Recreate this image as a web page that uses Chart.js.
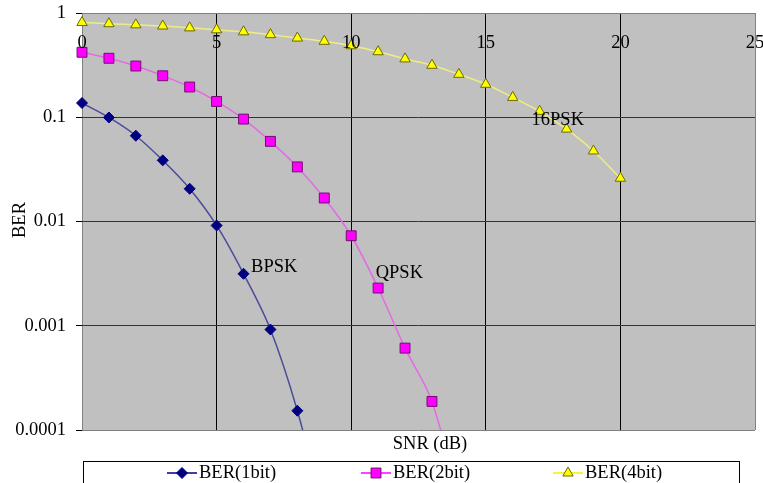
<!DOCTYPE html>
<html>
<head>
<meta charset="utf-8">
<script src="https://cdn.jsdelivr.net/npm/chart.js@4/dist/chart.umd.min.js"></script>
<style>
    html, body { margin: 0; padding: 0; background: #fff; }
    #wrap { width: 763px; height: 483px; }
</style>
</head>
<body>
<div id="wrap"><canvas id="berChart" width="763" height="483"></canvas></div>
<script>
// SNR (dB) values for each curve
var snr1bit = [0, 1, 2, 3, 4, 5, 6, 7, 8, 9];
var snr2bit = [0, 1, 2, 3, 4, 5, 6, 7, 8, 9, 10, 11, 12, 13, 14];
var snr4bit = [0, 1, 2, 3, 4, 5, 6, 7, 8, 9, 10, 11, 12, 13, 14, 15, 16, 17, 18, 19, 20];

// BER (last point of 1bit/2bit lies below the axis)
var ber1bit = [0.137, 0.0995, 0.0665, 0.0386, 0.0206, 0.00916, 0.00315, 0.00092, 0.000153, 0.000015];
var ber2bit = [0.42, 0.368, 0.31, 0.25, 0.195, 0.1417, 0.096, 0.0587, 0.0334, 0.0168,
               0.0073, 0.0023, 0.00061, 0.000188, 0.00002];
var ber4bit = [0.81, 0.79, 0.77, 0.75, 0.72, 0.69, 0.66, 0.62, 0.575, 0.535,
               0.485, 0.425, 0.363, 0.315, 0.258, 0.207, 0.155, 0.114, 0.077, 0.0475, 0.026];

var seriesNames = ['BER(1bit)', 'BER(2bit)', 'BER(4bit)'];
var xTicks = [0, 5, 10, 15, 20, 25];
var yTicks = [0.0001, 0.001, 0.01, 0.1, 1];

// curve labels, anchored in data coordinates
var curveLabels = [
    { text: 'BPSK', x: 6.28, y: 0.0033 },
    { text: 'QPSK', x: 10.91, y: 0.0029 },
    { text: '16PSK', x: 16.7, y: 0.084 }
];

var serif = '"Liberation Serif", "Times New Roman", serif';
var fontSize = 18.5;

function toPoints(xs, ys) {
    return xs.map(function (x, i) { return { x: x, y: ys[i] }; });
}

var plotDecor = {
    id: 'plotDecor',
    beforeDraw: function (chart) {
        var ctx = chart.ctx, a = chart.chartArea;
        ctx.save();
        ctx.fillStyle = '#c0c0c0';
        ctx.fillRect(a.left, a.top, a.right - a.left, a.bottom - a.top);
        ctx.restore();
    },
    afterDraw: function (chart) {
        var ctx = chart.ctx, a = chart.chartArea;
        var xs = chart.scales.x, ys = chart.scales.y;
        ctx.save();
        ctx.fillStyle = '#000';
        ctx.font = fontSize + 'px ' + serif;

        // x tick labels sit inside the plot, under the top edge
        ctx.textAlign = 'center';
        ctx.textBaseline = 'alphabetic';
        xTicks.forEach(function (v) {
            ctx.fillText(String(v), xs.getPixelForValue(v), a.top + 35);
        });

        // x title
        ctx.fillText('SNR (dB)', 430, 449);

        // y title
        ctx.save();
        ctx.translate(20, 220);
        ctx.rotate(-Math.PI / 2);
        ctx.textBaseline = 'middle';
        ctx.fillText('BER', 0, 0);
        ctx.restore();

        // curve labels
        ctx.textAlign = 'left';
        curveLabels.forEach(function (l) {
            ctx.fillText(l.text, xs.getPixelForValue(l.x), ys.getPixelForValue(l.y));
        });

        // legend box
        ctx.strokeStyle = '#000';
        ctx.lineWidth = 1;
        ctx.strokeRect(83.5, 461.5, 656, 40);
        var starts = [167, 361, 553];
        chart.data.datasets.forEach(function (ds, i) {
            var lx = starts[i], ly = 473;
            ctx.strokeStyle = ds.legendLine;
            ctx.lineWidth = 1.5;
            ctx.beginPath();
            ctx.moveTo(lx, ly);
            ctx.lineTo(lx + 30, ly);
            ctx.stroke();
            ctx.fillStyle = ds.pointBackgroundColor;
            ctx.strokeStyle = ds.pointBorderColor;
            ctx.lineWidth = 1;
            Chart.helpers.drawPoint(ctx, {
                pointStyle: ds.pointStyle, radius: ds.pointRadius,
                rotation: 0, borderWidth: 1
            }, lx + 15, ly);
            ctx.fillStyle = '#000';
            ctx.fillText(ds.label, lx + 32, 478);
        });
        ctx.restore();
    }
};

var edgeGray = '#808080';
var clipArea = { left: 12, top: 12, right: 12, bottom: 0 };

function noOverflow(s) {
    s.paddingTop = 0;
    s.paddingBottom = 0;
    s.paddingLeft = 0;
    s.paddingRight = 0;
}

new Chart(document.getElementById('berChart'), {
    type: 'line',
    data: {
        datasets: [{
            label: seriesNames[0],
            data: toPoints(snr1bit, ber1bit),
            borderColor: '#4b4b9b',
            legendLine: '#000080',
            borderWidth: 1.5,
            tension: 0.35,
            pointStyle: 'rectRot',
            pointRadius: 5.5,
            pointBackgroundColor: '#000080',
            pointBorderColor: '#000080',
            pointBorderWidth: 1,
            clip: clipArea
        }, {
            label: seriesNames[1],
            data: toPoints(snr2bit, ber2bit),
            borderColor: '#e36ae3',
            legendLine: '#ff00ff',
            borderWidth: 1.5,
            tension: 0.35,
            pointStyle: 'rect',
            pointRadius: 7,
            pointBackgroundColor: '#ff00ff',
            pointBorderColor: '#6e106e',
            pointBorderWidth: 1,
            clip: clipArea
        }, {
            label: seriesNames[2],
            data: toPoints(snr4bit, ber4bit),
            borderColor: '#eeee80',
            legendLine: '#f2f200',
            borderWidth: 1.5,
            tension: 0.35,
            pointStyle: 'triangle',
            pointRadius: 6,
            pointBackgroundColor: '#ffff00',
            pointBorderColor: '#6b6b00',
            pointBorderWidth: 1,
            clip: clipArea
        }]
    },
    options: {
        responsive: false,
        animation: false,
        devicePixelRatio: 1,
        layout: { padding: { top: 13, right: 6, bottom: 53, left: 0 } },
        plugins: {
            legend: { display: false },
            tooltip: { enabled: false }
        },
        scales: {
            x: {
                type: 'linear',
                min: 0,
                max: 25,
                afterBuildTicks: function (s) {
                    s.ticks = xTicks.map(function (v) { return { value: v }; });
                },
                afterFit: noOverflow,
                ticks: { display: false },
                grid: {
                    drawTicks: false,
                    lineWidth: 1,
                    color: function (c) {
                        var v = c.tick && c.tick.value;
                        return (v === 0 || v === 25) ? edgeGray : '#000';
                    }
                },
                border: { display: false }
            },
            y: {
                type: 'logarithmic',
                min: 0.0001,
                max: 1,
                afterBuildTicks: function (s) {
                    s.ticks = yTicks.map(function (v) { return { value: v }; });
                },
                afterFit: function (s) {
                    s.width = 82;
                    noOverflow(s);
                },
                ticks: {
                    autoSkip: false,
                    padding: 10,
                    color: '#000',
                    font: { family: serif, size: fontSize },
                    callback: function (v) { return String(v); }
                },
                grid: {
                    tickLength: 6,
                    tickColor: '#000',
                    lineWidth: 1,
                    color: function (c) {
                        var v = c.tick && c.tick.value;
                        return (v === 1 || v === 0.0001) ? edgeGray : '#333';
                    }
                },
                border: { display: false }
            }
        }
    },
    plugins: [plotDecor]
});
</script>
</body>
</html>
